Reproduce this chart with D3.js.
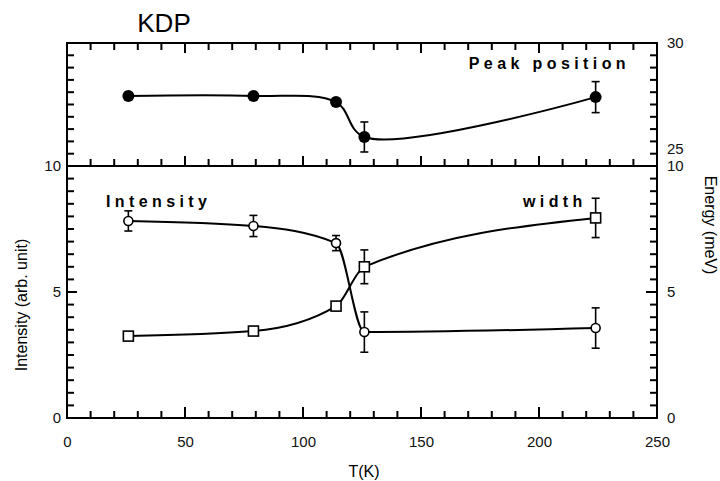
<!DOCTYPE html>
<html>
<head>
<meta charset="utf-8">
<script src="https://cdn.jsdelivr.net/npm/d3@7"></script>
<style>
  body { margin: 0; background: #fff; }
  svg { display: block; font-family: "Liberation Sans", Arial, sans-serif; }
  .axis path { display: none; }
  .axis text { font-size: 15px; fill: #111; }
  .curve { fill: none; stroke: #000; stroke-width: 2; }
  .err { stroke: #000; stroke-width: 1.6; }
  .series-label { font-size: 16px; font-weight: bold; letter-spacing: 4.4px; }
</style>
</head>
<body>
<svg id="chart" width="720" height="481"></svg>
<script>
const temps = [26, 79, 114, 126, 224];
const peakPos = [27.85, 27.85, 27.6, 26.18, 27.8];
const peakErr = [0, 0, 0, 0.61, 0.63];
const intensity = [7.82, 7.62, 6.94, 3.41, 3.57];
const intensityErr = [0.4, 0.42, 0.3, 0.8, 0.8];
const widthVals = [3.25, 3.45, 4.44, 6.0, 7.94];
const widthErr = [0, 0, 0, 0.67, 0.78];
const xTicks = [0, 50, 100, 150, 200, 250];
const topRightTicks = [25, 30];
const bottomTicks = [0, 5, 10];

(function kdpChart() {
  const svg = d3.select("#chart");
  const pLeft = 67, pRight = 657, pTop = 43, pMid = 166, pBottom = 418;

  const x = d3.scaleLinear().domain([0, 250]).range([pLeft, pRight]);
  const yTop = d3.scaleLinear().domain([25, 30]).range([pMid, pTop]);
  const yBot = d3.scaleLinear().domain([0, 10]).range([pBottom, pMid]);

  const minorX = d3.range(0, 251, 10);
  const minorTop = d3.range(25, 30.01, 0.5);
  const minorBot = d3.range(0, 10.01, 0.5);
  const fmt = d3.format("d");

  // frames
  svg.append("rect")
    .attr("x", pLeft).attr("y", pTop)
    .attr("width", pRight - pLeft).attr("height", pBottom - pTop)
    .attr("fill", "none").attr("stroke", "#000").attr("stroke-width", 2);
  svg.append("line")
    .attr("x1", pLeft).attr("x2", pRight).attr("y1", pMid).attr("y2", pMid)
    .attr("stroke", "#000").attr("stroke-width", 2);

  // inward tick marks, drawn from the scales
  const tickG = svg.append("g").attr("stroke", "#000").attr("stroke-width", 2);
  function hTicks(values, y0, dir, majors, lenMinor, lenMajor) {
    tickG.append("g").selectAll("line").data(values).join("line")
      .attr("x1", d => x(d)).attr("x2", d => x(d))
      .attr("y1", y0)
      .attr("y2", d => y0 + dir * (majors.includes(d) ? lenMajor : lenMinor));
  }
  function vTicks(values, scale, x0, dir, majors, lenMinor, lenMajor) {
    tickG.append("g").selectAll("line").data(values).join("line")
      .attr("y1", d => scale(d)).attr("y2", d => scale(d))
      .attr("x1", x0)
      .attr("x2", d => x0 + dir * (majors.some(m => Math.abs(m - d) < 1e-6) ? lenMajor : lenMinor));
  }
  hTicks(minorX, pBottom, -1, xTicks, 7, 11);
  hTicks(minorX, pMid, -1, xTicks, 7, 10);
  hTicks(minorX, pTop, 1, xTicks, 7, 10);
  vTicks(minorTop, yTop, pLeft, 1, [], 7, 7);
  vTicks(minorTop, yTop, pRight, -1, [], 7, 7);
  vTicks(minorBot, yBot, pLeft, 1, bottomTicks, 7, 10);
  vTicks(minorBot, yBot, pRight, -1, bottomTicks, 7, 11);

  // axis labels
  function addAxis(axis, tx, ty) {
    return svg.append("g").attr("class", "axis")
      .attr("transform", `translate(${tx},${ty})`)
      .call(axis);
  }
  addAxis(d3.axisBottom(x).tickValues(xTicks).tickSize(0).tickPadding(18).tickFormat(fmt), 0, pBottom);
  const topRight = addAxis(d3.axisRight(yTop).tickValues(topRightTicks).tickSize(0).tickPadding(10).tickFormat(fmt), pRight, 0);
  topRight.selectAll("text").filter(d => d === 25).attr("dy", "-0.85em");
  addAxis(d3.axisLeft(yBot).tickValues(bottomTicks).tickSize(0).tickPadding(6).tickFormat(fmt), pLeft, 0);
  const botRight = addAxis(d3.axisRight(yBot).tickValues(bottomTicks).tickSize(0).tickPadding(10).tickFormat(fmt), pRight, 0);
  botRight.selectAll("text").filter(d => d === 10).attr("dy", "0.3em");

  function drawCurve(vals, yScale, curve) {
    const line = d3.line()
      .x((d, i) => x(temps[i]))
      .y(d => yScale(d))
      .curve(curve);
    svg.append("path").attr("class", "curve").attr("d", line(vals));
  }

  function drawErr(vals, errs, yScale) {
    const g = svg.append("g");
    vals.forEach((v, i) => {
      if (!errs[i]) return;
      const cx = x(temps[i]);
      const y1 = yScale(v - errs[i]), y2 = yScale(v + errs[i]);
      g.append("line").attr("class", "err").attr("x1", cx).attr("x2", cx).attr("y1", y1).attr("y2", y2);
      g.append("line").attr("class", "err").attr("x1", cx - 4).attr("x2", cx + 4).attr("y1", y1).attr("y2", y1);
      g.append("line").attr("class", "err").attr("x1", cx - 4).attr("x2", cx + 4).attr("y1", y2).attr("y2", y2);
    });
  }

  drawCurve(peakPos, yTop, d3.curveCatmullRom.alpha(0.5));
  drawErr(peakPos, peakErr, yTop);
  svg.append("g").selectAll("circle").data(peakPos).join("circle")
    .attr("cx", (d, i) => x(temps[i])).attr("cy", d => yTop(d))
    .attr("r", 6).attr("fill", "#000");

  drawCurve(intensity, yBot, d3.curveMonotoneX);
  drawErr(intensity, intensityErr, yBot);
  svg.append("g").selectAll("circle").data(intensity).join("circle")
    .attr("cx", (d, i) => x(temps[i])).attr("cy", d => yBot(d))
    .attr("r", 4.5).attr("fill", "#fff").attr("stroke", "#000").attr("stroke-width", 1.6);

  drawCurve(widthVals, yBot, d3.curveMonotoneX);
  drawErr(widthVals, widthErr, yBot);
  svg.append("g").selectAll("rect").data(widthVals).join("rect")
    .attr("x", (d, i) => x(temps[i]) - 5).attr("y", d => yBot(d) - 5)
    .attr("width", 10).attr("height", 10)
    .attr("fill", "#fff").attr("stroke", "#000").attr("stroke-width", 1.6);

  // texts
  svg.append("text").attr("x", 164).attr("y", 32).attr("text-anchor", "middle")
    .attr("font-size", 26).text("KDP");
  svg.append("text").attr("class", "series-label").attr("x", 630).attr("y", 69)
    .attr("text-anchor", "end").text("Peak position");
  svg.append("text").attr("class", "series-label").attr("x", 106).attr("y", 207).text("Intensity");
  svg.append("text").attr("class", "series-label").attr("x", 523).attr("y", 207).text("width");

  svg.append("text").attr("x", 364).attr("y", 477).attr("text-anchor", "middle")
    .attr("font-size", 16).text("T(K)");
  svg.append("text").attr("transform", "translate(27,305) rotate(-90)")
    .attr("text-anchor", "middle").attr("font-size", 16).text("Intensity (arb. unit)");
  svg.append("text").attr("transform", "translate(705,225) rotate(90)")
    .attr("text-anchor", "middle").attr("font-size", 16).text("Energy (meV)");
})();
</script>
</body>
</html>
